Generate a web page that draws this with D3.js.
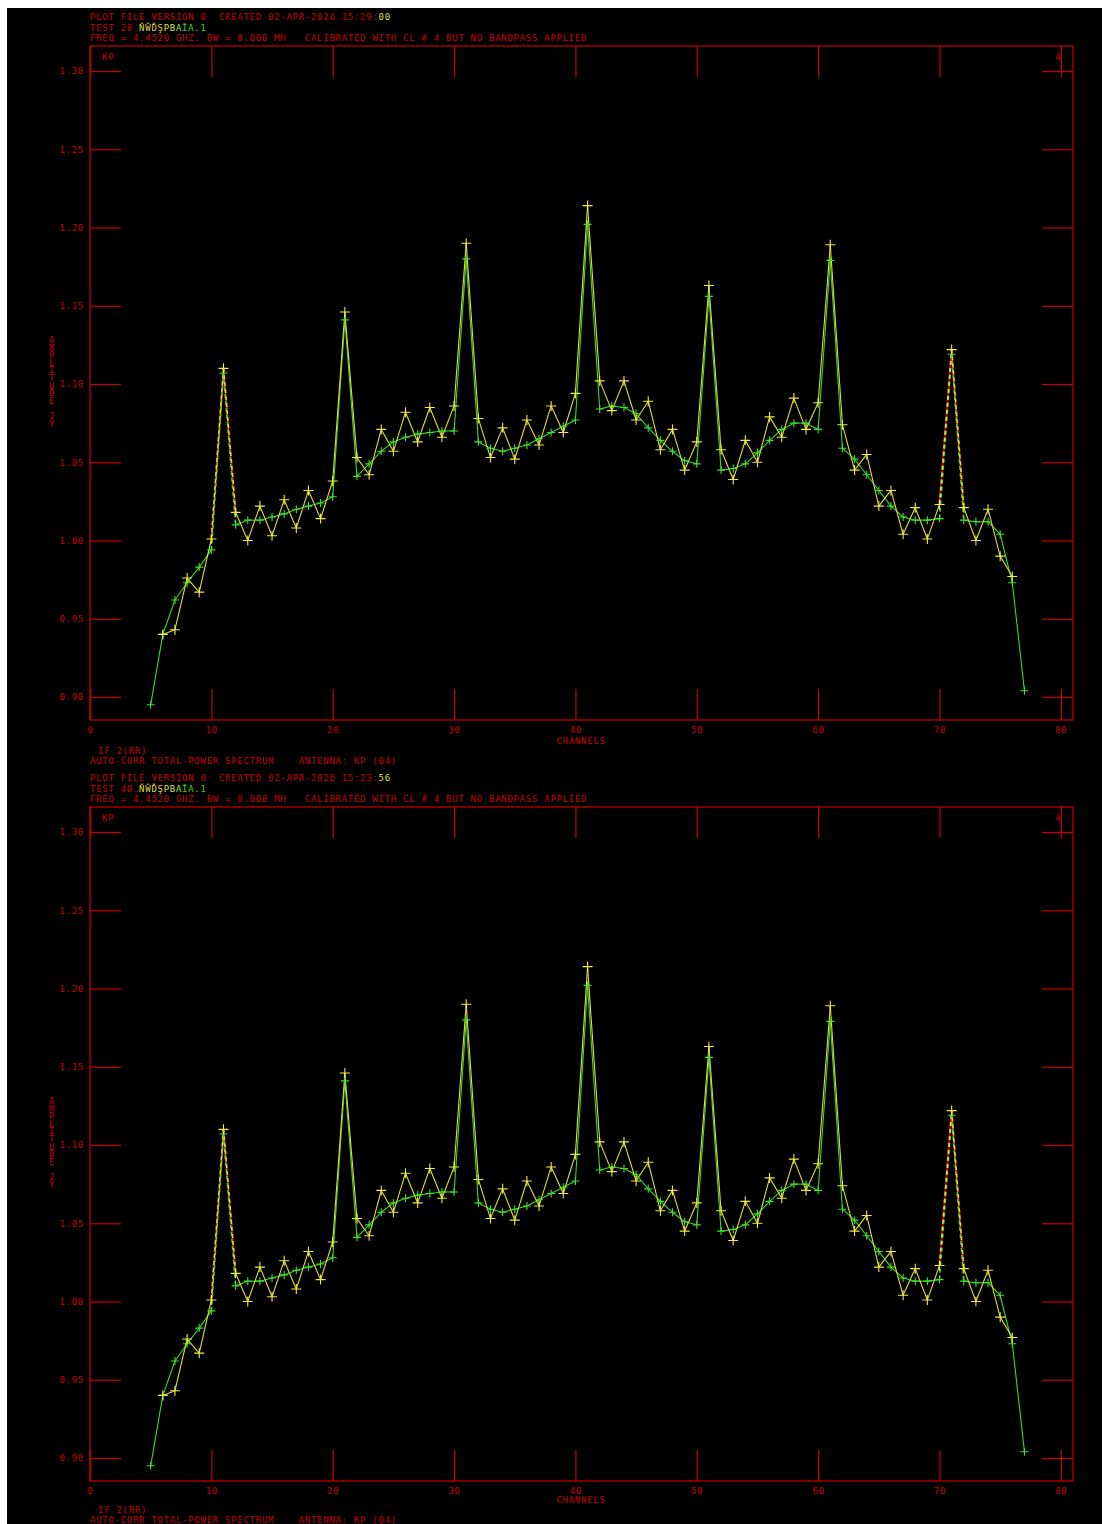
<!DOCTYPE html>
<html><head><meta charset="utf-8">
<script src="https://cdn.jsdelivr.net/npm/d3@7"></script>
<style>
html,body{margin:0;padding:0;background:#fff;}
svg{display:block}
text{font-family:"DejaVu Sans Mono",monospace;white-space:pre;}
</style></head><body>
<svg id="c" width="1102" height="1524"></svg>
<script>
// ---------- data ----------
const yellowChannels = [6,7,8,9,10,11,12,13,14,15,16,17,18,19,20,21,22,23,24,25,26,27,28,29,30,31,32,33,34,35,36,37,38,39,40,41,42,43,44,45,46,47,48,49,50,51,52,53,54,55,56,57,58,59,60,61,62,63,64,65,66,67,68,69,70,71,72,73,74,75,76];
const yellowValues = [0.940,0.943,0.976,0.967,1.001,1.110,1.018,1.000,1.022,1.003,1.026,1.008,1.032,1.014,1.038,1.146,1.053,1.042,1.071,1.057,1.082,1.063,1.085,1.066,1.086,1.190,1.078,1.053,1.072,1.052,1.077,1.061,1.086,1.069,1.094,1.214,1.102,1.083,1.102,1.077,1.089,1.058,1.071,1.045,1.063,1.163,1.058,1.039,1.064,1.050,1.079,1.066,1.091,1.071,1.088,1.189,1.074,1.045,1.055,1.022,1.032,1.004,1.021,1.001,1.023,1.122,1.021,1.000,1.020,0.990,0.977];
const greenChannels = [5,6,7,8,9,10,11,12,13,14,15,16,17,18,19,20,21,22,23,24,25,26,27,28,29,30,31,32,33,34,35,36,37,38,39,40,41,42,43,44,45,46,47,48,49,50,51,52,53,54,55,56,57,58,59,60,61,62,63,64,65,66,67,68,69,70,71,72,73,74,75,76,77];
const greenValues = [0.895,0.940,0.962,0.973,0.983,0.994,1.107,1.010,1.013,1.013,1.015,1.017,1.020,1.022,1.024,1.028,1.141,1.041,1.049,1.057,1.063,1.066,1.068,1.069,1.070,1.070,1.180,1.063,1.059,1.057,1.059,1.061,1.065,1.069,1.073,1.077,1.202,1.084,1.086,1.085,1.081,1.072,1.064,1.057,1.051,1.049,1.156,1.045,1.046,1.049,1.056,1.064,1.071,1.075,1.075,1.071,1.179,1.059,1.052,1.042,1.032,1.022,1.015,1.013,1.013,1.014,1.119,1.013,1.012,1.012,1.004,0.973,0.904];
const dashedRanges = [[10,12],[70,72]];
const xTicks = [0,10,20,30,40,50,60,70,80];
const yTicks = [0.90,0.95,1.00,1.05,1.10,1.15,1.20,1.25,1.30];
const panelTests = ["28","48"];
const panelTimes = ["15:29:","15:23:"];
const panelSeconds = ["00","56"];
const yLabelLetters = ["A","M","P","L","I","T","U","D","E"," ","J","Y"];

// ---------- drawing ----------
const RED = "#c80000";
const FS = "9px";
const LS = "0.72px";
const svg = d3.select("#c");
svg.append("rect").attr("x",7).attr("y",8).attr("width",1095).attr("height",1516).attr("fill","#000");

const x = d3.scaleLinear().domain([0,81]).range([90,1073]);
const yellow = yellowChannels.map((c,i)=>[c,yellowValues[i]]);
const green = greenChannels.map((c,i)=>[c,greenValues[i]]);
const cross = s => `M${-s},0H${s}M0,${-s}V${s}`;

function txt(g, xx, yy, s, fill, anchor){
  return g.append("text").attr("x",xx).attr("y",yy).attr("fill",fill||RED)
    .attr("xml:space","preserve")
    .attr("font-size",FS).attr("letter-spacing",LS).attr("text-anchor",anchor||"start").text(s);
}
function styleAxis(sel){
  sel.select(".domain").remove();
  sel.selectAll(".tick line").attr("stroke",RED).attr("stroke-width",1.2);
  sel.selectAll(".tick text").attr("fill",RED).attr("font-size",FS).attr("letter-spacing",LS)
    .attr("font-family","DejaVu Sans Mono, monospace");
}

panelTests.forEach((test,i)=>{
  const oy = i*761;
  const y = d3.scaleLinear().domain([0.8853,1.316]).range([720+oy,46+oy]);
  const g = svg.append("g");

  // header
  const t1 = txt(g,90,20+oy,"PLOT FILE VERSION 0  CREATED 02-APR-2026 "+panelTimes[i]);
  t1.append("tspan").attr("fill","#d8e040").text(panelSeconds[i]);
  const t2 = txt(g,90,30.5+oy,"TEST "+test+".");
  t2.append("tspan").attr("fill","#e0d840").text("ŇŴĎŞ");
  t2.append("tspan").attr("fill","#d8e040").text("PB");
  t2.append("tspan").attr("fill","#a0e040").text("A");
  t2.append("tspan").attr("fill","#40d030").text("ĪA.1");
  txt(g,90,41+oy,"FREQ = 4.4520 GHZ. BW = 8.000 MH   CALIBRATED WITH CL # 4 BUT NO BANDPASS APPLIED");

  // frame
  g.append("rect").attr("x",90).attr("y",46+oy).attr("width",983).attr("height",674)
    .attr("fill","none").attr("stroke",RED).attr("stroke-width",1.2);

  // axes
  g.append("g").attr("transform","translate(90,0)")
    .call(d3.axisLeft(y).tickValues(yTicks).tickSize(-31).tickPadding(6).tickFormat(d3.format(".2f"))).call(styleAxis);
  g.append("g").attr("transform","translate(1073,0)")
    .call(d3.axisRight(y).tickValues(yTicks).tickSize(-31).tickFormat("")).call(styleAxis);
  g.append("g").attr("transform",`translate(0,${720+oy})`)
    .call(d3.axisBottom(x).tickValues(xTicks).tickSize(-31).tickPadding(7).tickFormat(d3.format("d"))).call(styleAxis);
  g.append("g").attr("transform",`translate(0,${46+oy})`)
    .call(d3.axisTop(x).tickValues(xTicks).tickSize(-31).tickFormat("")).call(styleAxis);

  // labels (bottom block nudged up on the last panel so it stays inside the page)
  const by = i === panelTests.length-1 ? -2.5 : 0;
  txt(g,102,60+oy,"KP");
  txt(g,1055,60+oy,"4");
  txt(g,581,744+oy+by,"CHANNELS",RED,"middle");
  txt(g,98,754+oy+by,"IF 2(RR)");
  txt(g,90,764+oy+by,"AUTO-CORR TOTAL-POWER SPECTRUM    ANTENNA: KP (04)");
  yLabelLetters.forEach((ch,k)=>{
    txt(g,52,343+oy+k*7.6,ch,RED,"middle");
  });

  // series
  const line = d3.line().x(d=>x(d[0])).y(d=>y(d[1]));
  const inRange = c => dashedRanges.some(r=>c>r[0]&&c<=r[1]);
  function segments(data, dashed){
    const out=[];
    for(let k=1;k<data.length;k++){
      const isD = inRange(data[k][0]);
      if(isD===dashed) out.push([data[k-1],data[k]]);
    }
    return out;
  }
  segments(yellow,true).forEach(s=>{
    g.append("path").attr("d",line(s)).attr("fill","none").attr("stroke","#c00000").attr("stroke-width",2);
  });
  [[green,"#3cd828"],[yellow,"#dede38"]].forEach(([data,col])=>{
    segments(data,false).forEach(s=>{
      g.append("path").attr("d",line(s)).attr("fill","none").attr("stroke",col).attr("stroke-width",1.1);
    });
    segments(data,true).forEach(s=>{
      g.append("path").attr("d",line(s)).attr("fill","none").attr("stroke",col).attr("stroke-width",1.6)
        .attr("stroke-dasharray","4,3");
    });
  });
  g.selectAll(null).data(green).join("path")
    .attr("transform",d=>`translate(${x(d[0])},${y(d[1])})`).attr("d",cross(4))
    .attr("stroke","#40e030").attr("stroke-width",1.1).attr("fill","none");
  g.selectAll(null).data(yellow).join("path")
    .attr("transform",d=>`translate(${x(d[0])},${y(d[1])})`).attr("d",cross(5))
    .attr("stroke","#f0ec40").attr("stroke-width",1.1).attr("fill","none");
});
</script>
</body></html>
